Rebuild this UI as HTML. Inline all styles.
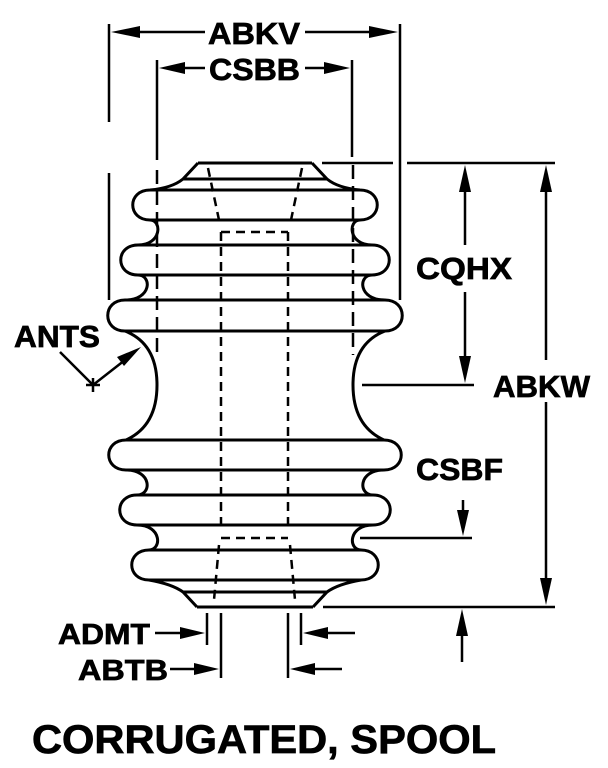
<!DOCTYPE html>
<html><head><meta charset="utf-8"><style>
html,body{margin:0;padding:0;background:#fff;}
svg{display:block;}
text{font-family:"Liberation Sans",sans-serif;font-weight:bold;fill:#000;stroke:#000;stroke-width:0.7;}
</style></head><body>
<svg width="608" height="768" viewBox="0 0 608 768" xmlns="http://www.w3.org/2000/svg">
<g fill="none" stroke="#000" stroke-width="3">
<g id="side">
<path d="M198,163 L183,179 Q172,188 150,190 C127,190 127,220 150,220 C162,220 162,245 138,245 C115,245 115,275 138,275 C152,275 152,300 125,300 C102,300 102,331 125,331 C148,340 157,360 157,385 C157,410 148,430 126,440 C103,440 103,470 126,470 C152,470 152,495 137,495 C114,495 114,525 137,525 C162,525 162,550 149,550 C126,550 126,580 149,580 Q172,584 183,592 L197,607"/>
</g>
<use href="#side" transform="translate(510,0) scale(-1,1)"/>
<path d="M198,163H312 M183,179H327 M150,190H360 M150,220H360 M138,245H372 M138,275H372 M125,300H385 M125,331H385 M126,440H384 M126,470H384 M137,495H373 M137,525H373 M149,550H361 M149,580H361 M183,592H327 M197,607H313"/>
</g>
<g fill="none" stroke="#000" stroke-width="2.5" stroke-dasharray="9,6">
<path d="M208,168 L219,220 M302,168 L291,220"/>
<path d="M221,232 V532 M288,232 V532 M221,232 H288 M221,538 H288"/>
<path d="M219,545 L214,600 M290,545 L295,600"/>
<path d="M157,170 V355 M353,165 V355" stroke-dasharray="14,7"/>
</g>
<g fill="none" stroke="#000" stroke-width="2.5">
<path d="M109,24V122 M109,173V300 M400,24V300 M157,60V160 M352,60V157"/>
<path d="M125,32H205 M305,32H385 M172,68H205 M305,68H337"/>
<path d="M322,163H393 M407,163H555 M323,607H555 M362,385H474 M360,538H472"/>
<path d="M465,185V245 M465,292V365 M546,185V360 M546,402V590 M463,500V520 M462,630V662"/>
<path d="M207,613V645 M221,613V678 M288,613V678 M301,613V645"/>
<path d="M155,633H190 M170,669H205 M316,633H355 M303,669H342"/>
<path d="M60,352 L93,385 M93,385 L125,360 M86,385H100 M93,378V392"/>
</g>
<g fill="#000">
<polygon points="111,32 140,26 140,38"/>
<polygon points="398,32 369,26 369,38"/>
<polygon points="159,68 185,62 185,74"/>
<polygon points="350,68 324,62 324,74"/>
<polygon points="465,165 459,192 471,192"/>
<polygon points="465,383 459,356 471,356"/>
<polygon points="546,165 540,192 552,192"/>
<polygon points="546,605 540,578 552,578"/>
<polygon points="463,536 457,510 469,510"/>
<polygon points="462,609 456,636 468,636"/>
<polygon points="205,633 180,627 180,639"/>
<polygon points="219,669 194,663 194,675"/>
<polygon points="303,633 328,627 328,639"/>
<polygon points="290,669 315,663 315,675"/>
<polygon points="141,347 117,357 124,366"/>
</g>
<g font-size="31">
<text x="208" y="44" textLength="92" lengthAdjust="spacingAndGlyphs">ABKV</text>
<text x="209" y="80" textLength="91" lengthAdjust="spacingAndGlyphs">CSBB</text>
<text x="416" y="279" textLength="96" lengthAdjust="spacingAndGlyphs">CQHX</text>
<text x="493" y="397" textLength="97" lengthAdjust="spacingAndGlyphs">ABKW</text>
<text x="416" y="480" textLength="87" lengthAdjust="spacingAndGlyphs">CSBF</text>
<text x="14" y="347" textLength="86" lengthAdjust="spacingAndGlyphs">ANTS</text>
<text x="58" y="644" font-size="29" textLength="92" lengthAdjust="spacingAndGlyphs">ADMT</text>
<text x="78" y="680" font-size="29" textLength="90" lengthAdjust="spacingAndGlyphs">ABTB</text>
<text x="32" y="753" font-size="40" textLength="464" lengthAdjust="spacingAndGlyphs">CORRUGATED, SPOOL</text>
</g>
</svg>
</body></html>
